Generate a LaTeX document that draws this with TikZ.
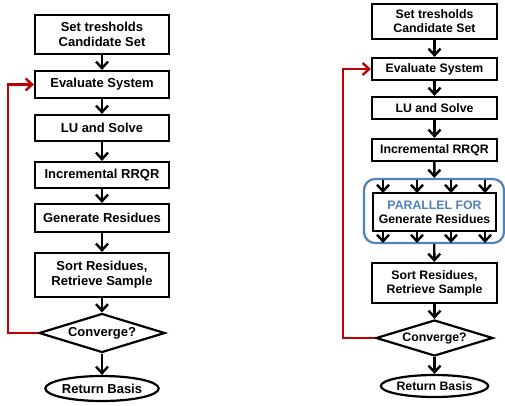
\documentclass[tikz,border=0pt]{standalone}
\usepackage{fontspec}
\setmainfont{Liberation Sans}
\usetikzlibrary{shapes.geometric,arrows.meta}
\definecolor{loopred}{RGB}{192,0,0}
\definecolor{parblue}{RGB}{79,129,189}
\tikzset{
  boxL/.style={draw,line width=2.2pt,minimum width=134pt,align=center,font=\bfseries\fontsize{13}{15}\selectfont,inner sep=0pt},
  boxR/.style={draw,line width=2.2pt,minimum width=125pt,align=center,font=\bfseries\fontsize{12.3}{14.2}\selectfont,inner sep=0pt},
  decL/.style={draw,diamond,aspect=3.2,line width=2.2pt,inner sep=0pt,font=\bfseries\fontsize{13}{15}\selectfont},
  decR/.style={draw,diamond,aspect=3.2,line width=2.2pt,inner sep=0pt,font=\bfseries\fontsize{12.3}{14.2}\selectfont},
  ovL/.style={draw,ellipse,line width=2.2pt,inner sep=0pt,font=\bfseries\fontsize{13}{15}\selectfont},
  ovR/.style={draw,ellipse,line width=2.2pt,inner sep=0pt,font=\bfseries\fontsize{12.3}{14.2}\selectfont},
  flow/.style={line width=2.4pt,-{Straight Barb[length=6.5pt,width=12pt]}},
  loop/.style={draw=loopred,line width=2.4pt,-{Straight Barb[length=6.5pt,width=12pt]}},
  par/.style={draw=parblue,line width=2.2pt,rounded corners=11pt}
}
\begin{document}
\begin{tikzpicture}[x=1pt,y=-1pt]
\useasboundingbox (0,0) rectangle (505,405);
% ---------- left column ----------
\node[boxL,minimum height=39pt] (l1) at (102,34.5) {Set tresholds\\Candidate Set};
\node[boxL,minimum height=27pt] (l2) at (102,84.5) {Evaluate System};
\node[boxL,minimum height=26pt] (l3) at (102,128) {LU and Solve};
\node[boxL,minimum height=26pt] (l4) at (102,175) {Incremental RRQR};
\node[boxL,minimum height=28pt] (l5) at (102,218) {Generate Residues};
\node[boxL,minimum height=44pt] (l6) at (102,275) {Sort Residues,\\Retrieve Sample};
\node[decL,minimum width=126pt,minimum height=39pt] (l7) at (102,333) {Converge?};
\node[ovL,minimum width=110pt,minimum height=25pt] (l8) at (102,388.5) {Return Basis};
\draw[flow] (l1) -- (l2);
\draw[flow] (l2) -- (l3);
\draw[flow] (l3) -- (l4);
\draw[flow] (l4) -- (l5);
\draw[flow] (l5) -- (l6);
\draw[flow] (l6) -- (l7);
\draw[flow] (l7) -- (l8);
\coordinate (lc1) at (8,333);
\coordinate (lc2) at (8,84.5);
\draw[loop] (l7.west) -- (lc1) -- (lc2) -- (l2.west);
% ---------- right column ----------
\node[boxR,minimum height=35pt] (r1) at (434.5,21.5) {Set tresholds\\Candidate Set};
\node[boxR,minimum height=22pt] (r2) at (434.5,69) {Evaluate System};
\node[boxR,minimum height=22pt] (r3) at (434.5,108) {LU and Solve};
\node[boxR,minimum height=22pt] (r4) at (434.5,150) {Incremental RRQR};
\node[par,minimum width=140pt,minimum height=64pt] (rp) at (434,211) {};
\node[boxR,minimum width=123pt,minimum height=38pt] (r5) at (434.5,212) {\textcolor{parblue}{PARALLEL FOR}\\Generate Residues};
\node[boxR,minimum height=40pt] (r6) at (434.5,283) {Sort Residues,\\Retrieve Sample};
\node[decR,minimum width=117pt,minimum height=36pt] (r7) at (434.5,338) {Converge?};
\node[ovR,minimum width=104pt,minimum height=22pt] (r8) at (434.5,386) {Return Basis};
\draw[flow] (r1) -- (r2);
\draw[flow] (r2) -- (r3);
\draw[flow] (r3) -- (r4);
\draw[flow] (r4) -- (rp);
\foreach \xx [count=\i] in {383,417,451,485}{
  \coordinate (pt\i) at (\xx,179.5);
  \coordinate (pb\i) at (\xx,231);
  \coordinate (qt\i) at (\xx,193);
  \coordinate (qb\i) at (\xx,243);
  \draw[flow] (pt\i) -- (qt\i);
  \draw[flow] (pb\i) -- (qb\i);
}
\draw[flow] (rp) -- (r6);
\draw[flow] (r6) -- (r7);
\draw[flow] (r7) -- (r8);
\coordinate (rc1) at (343,338);
\coordinate (rc2) at (343,69);
\draw[loop] (r7.west) -- (rc1) -- (rc2) -- (r2.west);
\end{tikzpicture}
\end{document}
